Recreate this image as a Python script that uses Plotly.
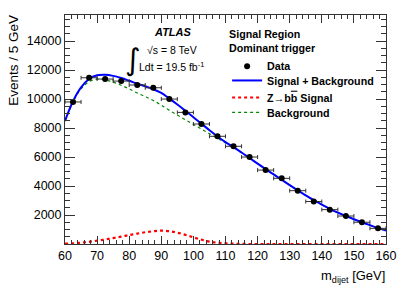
import plotly.graph_objects as go

# ---- data ----
bin_centers = [62.5, 67.5, 72.5, 77.5, 82.5, 87.5, 92.5, 97.5, 102.5, 107.5,
               112.5, 117.5, 122.5, 127.5, 132.5, 137.5, 142.5, 147.5, 152.5, 157.5]
data_counts = [9800, 11470, 11380, 11240, 10970, 10780, 10000, 9080, 8280, 7430,
               6740, 6000, 5100, 4530, 3680, 2930, 2370, 1930, 1500, 1080]
data_errors = [99, 107, 107, 106, 105, 104, 100, 95, 91, 86,
               82, 77, 71, 67, 61, 54, 49, 44, 39, 33]
bin_halfwidth = [2.5] * 20

curve_mass = [60, 62.5, 65, 67.5, 70, 72.5, 75, 77.5, 80, 82.5, 85, 87.5, 90, 92.5,
              95, 97.5, 100, 102.5, 105, 107.5, 110, 112.5, 115, 117.5, 120, 122.5,
              125, 127.5, 130, 132.5, 135, 137.5, 140, 142.5, 145, 147.5, 150, 152.5,
              155, 157.5, 160]
curve_total = [8500, 9850, 10800, 11380, 11640, 11680, 11600, 11450, 11260, 11060,
               10880, 10680, 10420, 10030, 9630, 9200, 8750, 8300, 7850, 7420,
               7030, 6680, 6310, 5930, 5550, 5170, 4800, 4430, 4060, 3700,
               3350, 3020, 2720, 2430, 2160, 1930, 1710, 1500, 1300, 1100, 930]
curve_signal = [30, 50, 90, 150, 230, 310, 410, 510, 620, 720,
                810, 880, 920, 880, 780, 630, 460, 300, 160, 90,
                50, 20, 10, 0, 0, 0, 0, 0, 0, 0,
                0, 0, 0, 0, 0, 0, 0, 0, 0, 0, 0]
curve_background = [8470, 9800, 10710, 11200, 11370, 11330, 11170, 10950, 10700, 10420,
                    10170, 9900, 9580, 9220, 8900, 8570, 8250, 7930, 7610, 7290,
                    6970, 6660, 6300, 5930, 5550, 5170, 4800, 4430, 4060, 3700,
                    3350, 3020, 2720, 2430, 2160, 1930, 1710, 1500, 1300, 1100, 930]

x_tick_vals = [60, 70, 80, 90, 100, 110, 120, 130, 140, 150, 160]
x_tick_text = ["60", "70", "80", "90", "100", "110", "120", "130", "140", "150", "160"]
y_tick_vals = [2000, 4000, 6000, 8000, 10000, 12000, 14000]
y_tick_text = ["2000", "4000", "6000", "8000", "10000", "12000", "14000"]

FONT = "Liberation Sans, Arial, Helvetica, sans-serif"
LEG_FONT = dict(family=FONT, size=10.7, color="black", weight="bold")

fig = go.Figure()
fig.add_trace(go.Scatter(
    x=curve_mass, y=curve_background, mode="lines", name="Background",
    line=dict(color="#008800", width=1.2, dash="dot", shape="spline"),
    legend="legend4"))
fig.add_trace(go.Scatter(
    x=curve_mass, y=curve_signal, mode="lines",
    name="Z\u2192b<span style=\"text-decoration:overline\">b</span> Signal",
    line=dict(color="#ff0000", width=2.2, dash="dot", shape="spline"),
    legend="legend3"))
fig.add_trace(go.Scatter(
    x=curve_mass, y=curve_total, mode="lines", name="Signal + Background",
    line=dict(color="#0000ff", width=2, shape="spline"),
    legend="legend2"))
fig.add_trace(go.Scatter(
    x=bin_centers, y=data_counts, mode="markers", name="Data",
    marker=dict(color="black", size=6),
    error_x=dict(type="data", array=bin_halfwidth, color="#333333", thickness=1, width=2),
    error_y=dict(type="data", array=data_errors, color="#333333", thickness=1, width=2),
    legend="legend"))

LEG_X = 0.505


def leg(y, title=None):
    d = dict(x=LEG_X, y=y, xanchor="left", yanchor="top",
             bgcolor="rgba(0,0,0,0)", borderwidth=0, font=LEG_FONT)
    if title:
        d["title"] = dict(text=title, font=LEG_FONT)
    return d


fig.update_layout(
    width=407, height=292,
    margin=dict(l=65, r=21, t=15, b=48),
    paper_bgcolor="white", plot_bgcolor="white",
    font=dict(family=FONT, color="black", size=12),
    showlegend=True,
    legend=leg(0.961, "Signal Region<br>Dominant trigger"),
    legend2=leg(0.7775),
    legend3=leg(0.703),
    legend4=leg(0.638),
)

fig.update_xaxes(
    range=[60, 160], tickmode="array", tickvals=x_tick_vals, ticktext=x_tick_text,
    ticks="inside", ticklen=8, tickcolor="#333333", tickwidth=1,
    showline=True, linecolor="#333333", linewidth=1, mirror="ticks",
    showgrid=False, zeroline=False, automargin=False,
    tickfont=dict(family=FONT, size=12.5, color="black"),
    minor=dict(tickmode="linear", tick0=60, dtick=2, ticks="inside", ticklen=4,
               tickcolor="#333333", showgrid=False),
)
fig.update_yaxes(
    range=[0, 15800], tickmode="array", tickvals=y_tick_vals, ticktext=y_tick_text,
    ticks="inside", ticklen=10, tickcolor="#333333", tickwidth=1,
    showline=True, linecolor="#333333", linewidth=1, mirror="ticks",
    showgrid=False, zeroline=False, automargin=False,
    tickfont=dict(family=FONT, size=12.5, color="black"),
    minor=dict(tickmode="linear", tick0=0, dtick=500, ticks="inside", ticklen=5,
               tickcolor="#333333", showgrid=False),
)

# axis titles (ROOT style: right/top aligned)
fig.add_annotation(text="Events / 5 GeV", xref="paper", yref="paper",
                   x=-0.16, y=1.01, xanchor="center", yanchor="top",
                   textangle=-90, showarrow=False,
                   font=dict(family=FONT, size=13.5, color="black"))
fig.add_annotation(text="m<sub>dijet</sub> [GeV]", xref="paper", yref="paper",
                   x=1.003, y=-0.144, xanchor="right", yanchor="middle",
                   showarrow=False, font=dict(family=FONT, size=13, color="black"))

# ATLAS label
fig.add_annotation(text="<b><i>ATLAS</i></b>", xref="paper", yref="paper",
                   x=0.336, y=0.926, xanchor="center", yanchor="middle",
                   showarrow=False, font=dict(family=FONT, size=11, color="black"))
fig.add_annotation(text="\u222B", xref="paper", yref="paper",
                   x=0.212, y=0.807, xanchor="center", yanchor="middle",
                   showarrow=False,
                   font=dict(family="DejaVu Sans, " + FONT, size=30, color="black"))
fig.add_annotation(text="\u221As = 8 TeV", xref="paper", yref="paper",
                   x=0.249, y=0.847, xanchor="left", yanchor="middle",
                   showarrow=False, font=dict(family=FONT, size=10.5, color="black"))
fig.add_annotation(text="Ldt = 19.5 fb<sup>-1</sup>", xref="paper", yref="paper",
                   x=0.224, y=0.777, xanchor="left", yanchor="middle",
                   showarrow=False, font=dict(family=FONT, size=10.5, color="black"))

fig.write_html("out.html",
               config={"displayModeBar": False},
               post_script="document.body.style.margin='0';"
                           "document.body.style.overflow='hidden';")
